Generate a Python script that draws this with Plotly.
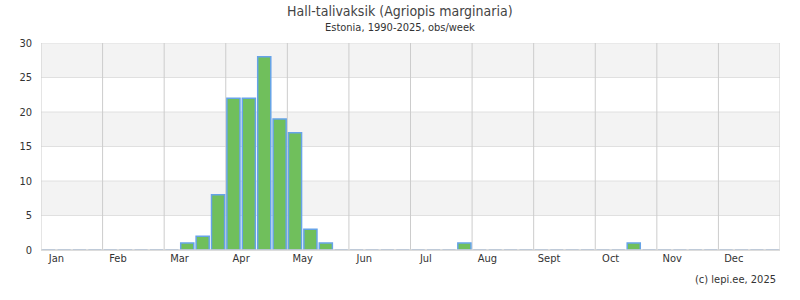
import plotly.graph_objects as go

months = ["Jan", "Feb", "Mar", "Apr", "May", "Jun", "Jul", "Aug", "Sept", "Oct", "Nov", "Dec"]
weeks = list(range(48))
counts = [0]*48
obs = {9: 1, 10: 2, 11: 8, 12: 22, 13: 22, 14: 28, 15: 19, 16: 17, 17: 3, 18: 1, 27: 1, 38: 1}
for k, v in obs.items():
    counts[k] = v
y_ticks = [0, 5, 10, 15, 20, 25, 30]

FONT = "DejaVu Sans Condensed, DejaVu Sans, sans-serif"

fig = go.Figure()
fig.add_trace(go.Bar(
    x=weeks, y=counts, width=0.85,
    marker=dict(color="#70bf5c", line=dict(color="#66a3e8", width=1.5)),
    hoverinfo="skip",
))

shapes = []
# alternating bands
for i, lo in enumerate(y_ticks[:-1]):
    if i % 2 == 1:
        shapes.append(dict(type="rect", xref="paper", yref="y", x0=0, x1=1, y0=lo, y1=lo + 5,
                           fillcolor="#f3f3f3", line_width=0, layer="below"))
for lo in y_ticks[1:]:
    shapes.append(dict(type="line", xref="paper", yref="y", x0=0, x1=1, y0=lo, y1=lo,
                       line=dict(color="#e0e0e0", width=1), layer="below"))
for m in range(13):
    shapes.append(dict(type="line", xref="x", yref="paper", x0=4*m - 0.5, x1=4*m - 0.5, y0=0, y1=1,
                       line=dict(color="#cccccc", width=1), layer="below"))
shapes.append(dict(type="line", xref="paper", yref="paper", x0=0, x1=1, y0=0, y1=0,
                   line=dict(color="#d0d0d0", width=1.5)))

fig.update_layout(
    width=800, height=300,
    margin=dict(l=41, r=20, t=43, b=50),
    paper_bgcolor="white", plot_bgcolor="white",
    showlegend=False,
    font=dict(family=FONT, size=11, color="#333333"),
    shapes=shapes,
    xaxis=dict(range=[-0.5, 47.5], tickvals=[4*m + 0.5 for m in range(12)], ticktext=months,
               showgrid=False, zeroline=False, ticks="", tickfont=dict(size=11, color="#333")),
    yaxis=dict(range=[0, 30], tickvals=y_ticks, showgrid=False, zeroline=False, ticks="",
               ticklabelstandoff=8, tickfont=dict(size=11, color="#333")),
    annotations=[
        dict(text="Hall-talivaksik (Agriopis marginaria)", x=0.5, y=11, xref="paper", yref="paper",
             showarrow=False, font=dict(size=14, color="#444")),
        dict(text="Estonia, 1990-2025, obs/week", x=0.5, y=28, xref="paper", yref="paper",
             showarrow=False, font=dict(size=11, color="#333")),
        dict(text="(c) lepi.ee, 2025", x=778, y=279, xref="paper", yref="paper",
             xanchor="right", showarrow=False, font=dict(size=11, color="#333")),
    ],
)
# convert pixel annotations to paper coords
pw, ph = 800 - 41 - 20, 300 - 43 - 50
anns = list(fig.layout.annotations)
new = []
for a in anns:
    px = a.x if a.x > 1 else None
    d = a.to_plotly_json()
    if d["x"] > 1:
        d["x"] = (d["x"] - 41) / pw
    else:
        d["x"] = 0.5 * 800 / pw - 41 / pw
    d["y"] = (300 - 50 - d["y"]) / ph
    d["yanchor"] = "middle"
    new.append(d)
fig.update_layout(annotations=new)

fig.write_html("out.html")
